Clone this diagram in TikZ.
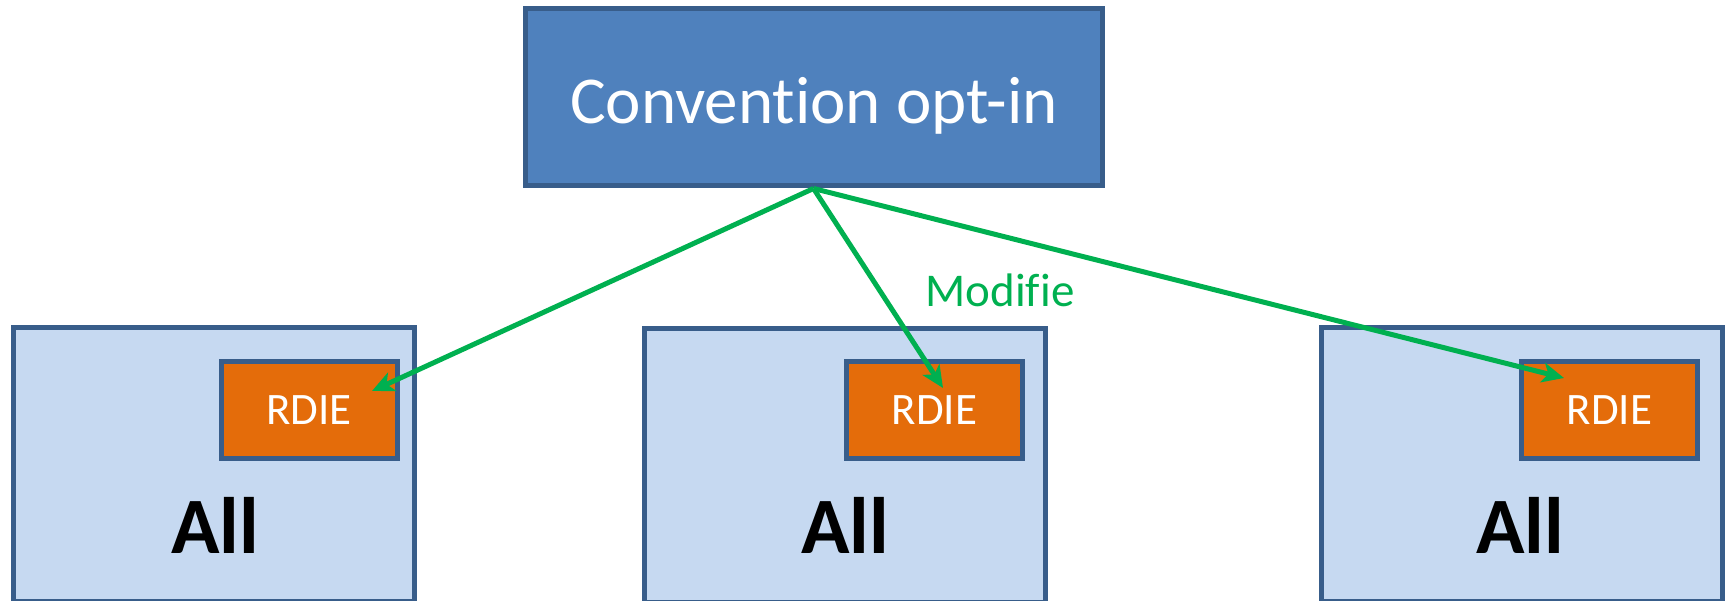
\documentclass[tikz,border=0pt]{standalone}
\usepackage{fontspec}
\setmainfont{Carlito}[Ligatures=NoCommon]
\usetikzlibrary{arrows.meta}
\definecolor{topfill}{RGB}{79,129,189}
\definecolor{edge}{RGB}{56,93,138}
\definecolor{allfill}{RGB}{198,217,241}
\definecolor{rdiefill}{RGB}{228,108,10}
\definecolor{arrowgreen}{RGB}{0,176,80}
\tikzset{
  topbox/.style={draw=edge, fill=topfill, line width=5pt, minimum width=577pt, minimum height=177pt, inner sep=0pt},
  toptext/.style={text=white, font=\fontsize{67}{70}\selectfont, inner sep=0pt},
  allbox/.style={draw=edge, fill=allfill, line width=5pt, minimum width=401pt, minimum height=273pt, inner sep=0pt},
  rdiebox/.style={draw=edge, fill=rdiefill, line width=5pt, minimum width=176pt, minimum height=96pt, inner sep=0pt, text=white, font=\fontsize{45}{48}\selectfont},
  alltext/.style={font=\fontsize{80}{84}\selectfont\bfseries, inner sep=0pt},
  link/.style={draw=arrowgreen, line width=5pt, -{Stealth[length=22pt,width=20pt,inset=6pt]}},
  lbl/.style={text=arrowgreen, font=\fontsize{47}{50}\selectfont, inner sep=0pt}
}
\begin{document}
\begin{tikzpicture}[x=1pt,y=-1pt]
\useasboundingbox (0,0) rectangle (1727,601);
\node[topbox] (top) at (813.5,97.5) {};
\node[toptext] (toplbl) at (814,106) {Convention opt-in};
\node[allbox] (a1) at (213.5,464.5) {};
\node[allbox] (a2) at (845,465.5) {};
\node[allbox] (a3) at (1522,464.5) {};
\node[rdiebox] (r1) at (309,410) {RDIE};
\node[rdiebox] (r2) at (934.5,410) {RDIE};
\node[rdiebox] (r3) at (1609.5,410) {RDIE};
\node[alltext] (l1) at (215,525) {All};
\node[alltext] (l2) at (845,525) {All};
\node[alltext] (l3) at (1520,525) {All};
\coordinate (t1) at (372,391);
\coordinate (t2) at (943,388);
\coordinate (t3) at (1564,378);
\draw[link] (top.south) -- (t1);
\draw[link] (top.south) -- (t2);
\draw[link] (top.south) -- (t3);
\node[lbl] (mod) at (1000,290) {Modifie};
\end{tikzpicture}
\end{document}
